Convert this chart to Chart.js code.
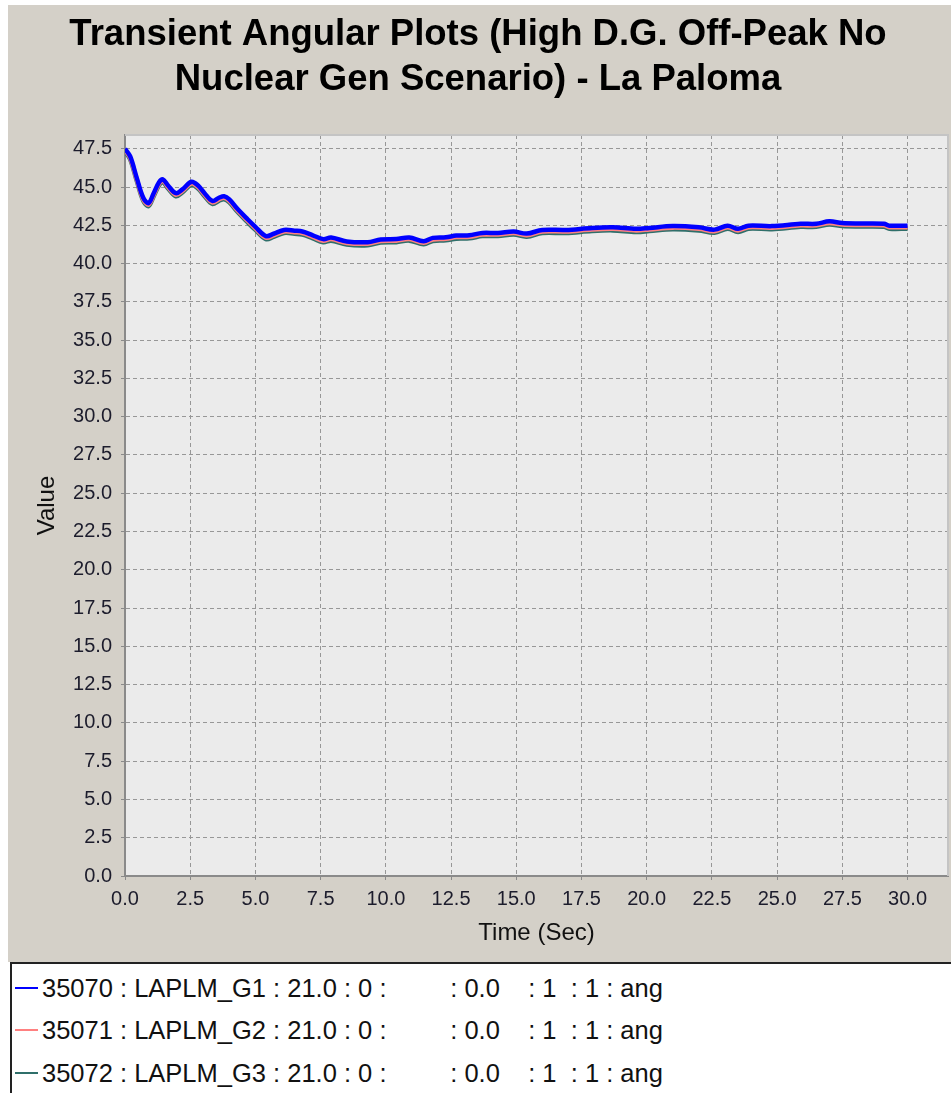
<!DOCTYPE html>
<html><head><meta charset="utf-8">
<script src="https://cdn.jsdelivr.net/npm/chart.js@4/dist/chart.umd.min.js"></script>
<style>
html,body{margin:0;padding:0;background:#fff;width:951px;height:1093px;overflow:hidden;}
#frame{position:absolute;left:8px;top:5px;width:943px;height:957px;background:#d4d0c8;}
#frame canvas{display:block;}
#legend{position:absolute;left:10px;top:962px;width:945px;height:140px;background:#fff;border:2px solid #222;box-sizing:border-box;font-family:"Liberation Sans",Arial,sans-serif;font-size:25.5px;color:#111;}
.row{position:absolute;left:0;height:30px;line-height:30px;white-space:pre;width:900px;}
.swatch{position:absolute;left:3px;top:14px;width:23px;height:2px;}
.txt{position:absolute;left:30px;top:0;}
</style>
</head><body>
<div id="frame"><canvas id="c" width="943" height="957"></canvas></div>
<div id="legend"></div>
<script>
const chartTitle = ["Transient Angular Plots (High D.G. Off-Peak No", "Nuclear Gen Scenario) - La Paloma"];
const xAxisTitle = "Time (Sec)";
const yAxisTitle = "Value";
const seriesLabels = [
  "35070 : LAPLM_G1 : 21.0 : 0 :         : 0.0    : 1  : 1 : ang",
  "35071 : LAPLM_G2 : 21.0 : 0 :         : 0.0    : 1  : 1 : ang",
  "35072 : LAPLM_G3 : 21.0 : 0 :         : 0.0    : 1  : 1 : ang"
];
const seriesColors = ["#0000ff", "#ff8080", "#2f6f6a"];
const timeSec = [0, 0.2, 0.45, 0.7, 0.9, 1.1, 1.3, 1.45, 1.65, 1.95, 2.2, 2.55, 2.8, 3.05, 3.35, 3.6, 3.8, 4.0, 4.3, 4.7, 5.0, 5.4, 5.7, 6.1, 6.5, 6.8, 7.2, 7.6, 7.9, 8.5, 9.3, 9.8, 10.4, 10.9, 11.45, 11.8, 12.3, 12.7, 13.2, 13.7, 14.3, 14.9, 15.4, 16.0, 16.9, 17.9, 18.7, 19.6, 20.1, 21.0, 22.0, 22.6, 23.1, 23.5, 23.9, 24.8, 25.9, 26.5, 27.0, 27.5, 28.2, 29.1, 29.3, 30.0];
const angG1 = [47.5, 47.0, 45.6, 44.3, 43.95, 44.6, 45.3, 45.5, 45.1, 44.6, 44.85, 45.35, 45.1, 44.6, 44.1, 44.3, 44.4, 44.2, 43.6, 42.9, 42.4, 41.8, 41.95, 42.2, 42.15, 42.1, 41.85, 41.6, 41.7, 41.45, 41.4, 41.57, 41.6, 41.7, 41.46, 41.68, 41.72, 41.83, 41.85, 42.0, 42.0, 42.1, 41.96, 42.2, 42.2, 42.33, 42.37, 42.27, 42.33, 42.45, 42.37, 42.22, 42.48, 42.27, 42.48, 42.45, 42.6, 42.6, 42.76, 42.65, 42.62, 42.6, 42.48, 42.48];
const angG2 = [47.42, 46.9, 45.5, 44.2, 43.85, 44.5, 45.2, 45.42, 45.0, 44.5, 44.75, 45.25, 45.0, 44.5, 44.0, 44.2, 44.3, 44.1, 43.5, 42.8, 42.3, 41.7, 41.85, 42.1, 42.05, 42.0, 41.75, 41.5, 41.6, 41.35, 41.3, 41.47, 41.5, 41.6, 41.36, 41.58, 41.62, 41.73, 41.75, 41.9, 41.9, 42.0, 41.86, 42.1, 42.1, 42.23, 42.27, 42.17, 42.23, 42.35, 42.27, 42.12, 42.38, 42.17, 42.38, 42.35, 42.5, 42.5, 42.66, 42.55, 42.52, 42.5, 42.38, 42.38];
const angG3 = [47.35, 46.8, 45.4, 44.1, 43.75, 44.4, 45.1, 45.32, 44.9, 44.4, 44.65, 45.15, 44.9, 44.4, 43.9, 44.1, 44.2, 44.0, 43.4, 42.7, 42.2, 41.6, 41.75, 42.0, 41.95, 41.9, 41.65, 41.4, 41.5, 41.25, 41.2, 41.37, 41.4, 41.5, 41.26, 41.48, 41.52, 41.63, 41.65, 41.8, 41.8, 41.9, 41.76, 42.0, 42.0, 42.13, 42.17, 42.07, 42.13, 42.25, 42.17, 42.02, 42.28, 42.07, 42.28, 42.25, 42.4, 42.4, 42.56, 42.45, 42.42, 42.4, 42.28, 42.28];
const xRange = [0, 31.55];
const yRange = [0, 48.4];
const tickStep = 2.5;

const FONT = '"Liberation Sans", Arial, sans-serif';
const seriesValues = [angG1, angG2, angG3];

const plotFrame = {
  id: 'plotFrame',
  beforeDraw(chart) {
    const {ctx, chartArea: a} = chart;
    ctx.save();
    ctx.fillStyle = '#ebebeb';
    ctx.fillRect(a.left, a.top, a.right - a.left, a.bottom - a.top);
    ctx.restore();
  },
  afterDraw(chart) {
    const {ctx, chartArea: a} = chart;
    ctx.save();
    ctx.strokeStyle = '#c4c4c4';
    ctx.lineWidth = 2;
    ctx.beginPath();
    ctx.moveTo(a.left, a.top);
    ctx.lineTo(a.right, a.top);
    ctx.lineTo(a.right, a.bottom);
    ctx.stroke();
    ctx.restore();
  }
};

const datasets = seriesValues.map((vals, i) => ({
  label: seriesLabels[i],
  data: timeSec.map((t, j) => ({x: t, y: vals[j]})),
  borderColor: seriesColors[i],
  backgroundColor: seriesColors[i],
  borderWidth: 4.5,
  pointRadius: 0,
  tension: 0.35,
  fill: false
}));

const gridOpts = {color: '#979797', lineWidth: 1, tickLength: 4, tickColor: '#8a8a8a', tickBorderDash: []};
const borderOpts = {display: true, color: '#8a8a8a', width: 2, dash: [4, 3]};

const chart = new Chart(document.getElementById('c'), {
  type: 'line',
  data: {datasets},
  plugins: [plotFrame],
  options: {
    responsive: false,
    devicePixelRatio: 1,
    animation: false,
    layout: {padding: {top: 0, right: 3, left: 0, bottom: 0}},
    plugins: {
      legend: {display: false},
      tooltip: {enabled: false},
      title: {
        display: true,
        text: chartTitle,
        color: '#000',
        font: {family: FONT, size: 36.5, weight: 'bold', lineHeight: 1.233},
        padding: {top: 7.5, bottom: 32.5}
      }
    },
    scales: {
      x: {
        type: 'linear',
        min: xRange[0], max: xRange[1],
        afterFit(s) { s.height = 86; },
        ticks: {stepSize: tickStep, includeBounds: false, autoSkip: false, maxRotation: 0,
          padding: 7, color: '#1c1c2c', font: {family: FONT, size: 20},
          callback: v => Number(v).toFixed(1)},
        grid: gridOpts,
        border: borderOpts,
        title: {display: true, text: xAxisTitle, color: '#111', font: {family: FONT, size: 24}, padding: {top: 0, bottom: 14.6}}
      },
      y: {
        type: 'linear',
        min: yRange[0], max: yRange[1],
        afterFit(s) { s.width = 117; },
        ticks: {stepSize: tickStep, includeBounds: false, autoSkip: false,
          padding: 9, color: '#1c1c2c', font: {family: FONT, size: 20},
          callback: v => Number(v).toFixed(1)},
        grid: gridOpts,
        border: borderOpts,
        title: {display: true, text: yAxisTitle, color: '#111', font: {family: FONT, size: 24}, padding: {top: 25, bottom: 0}}
      }
    }
  }
});

// HTML legend built from the chart's datasets
const legendEl = document.getElementById('legend');
const rowCenters = [24, 66, 109];
chart.data.datasets.forEach((ds, i) => {
  const row = document.createElement('div');
  row.className = 'row';
  row.style.top = (rowCenters[i] - 15) + 'px';
  const sw = document.createElement('div');
  sw.className = 'swatch';
  sw.style.background = ds.borderColor;
  const tx = document.createElement('span');
  tx.className = 'txt';
  tx.textContent = ds.label;
  row.appendChild(sw);
  row.appendChild(tx);
  legendEl.appendChild(row);
});
</script>
</body></html>
